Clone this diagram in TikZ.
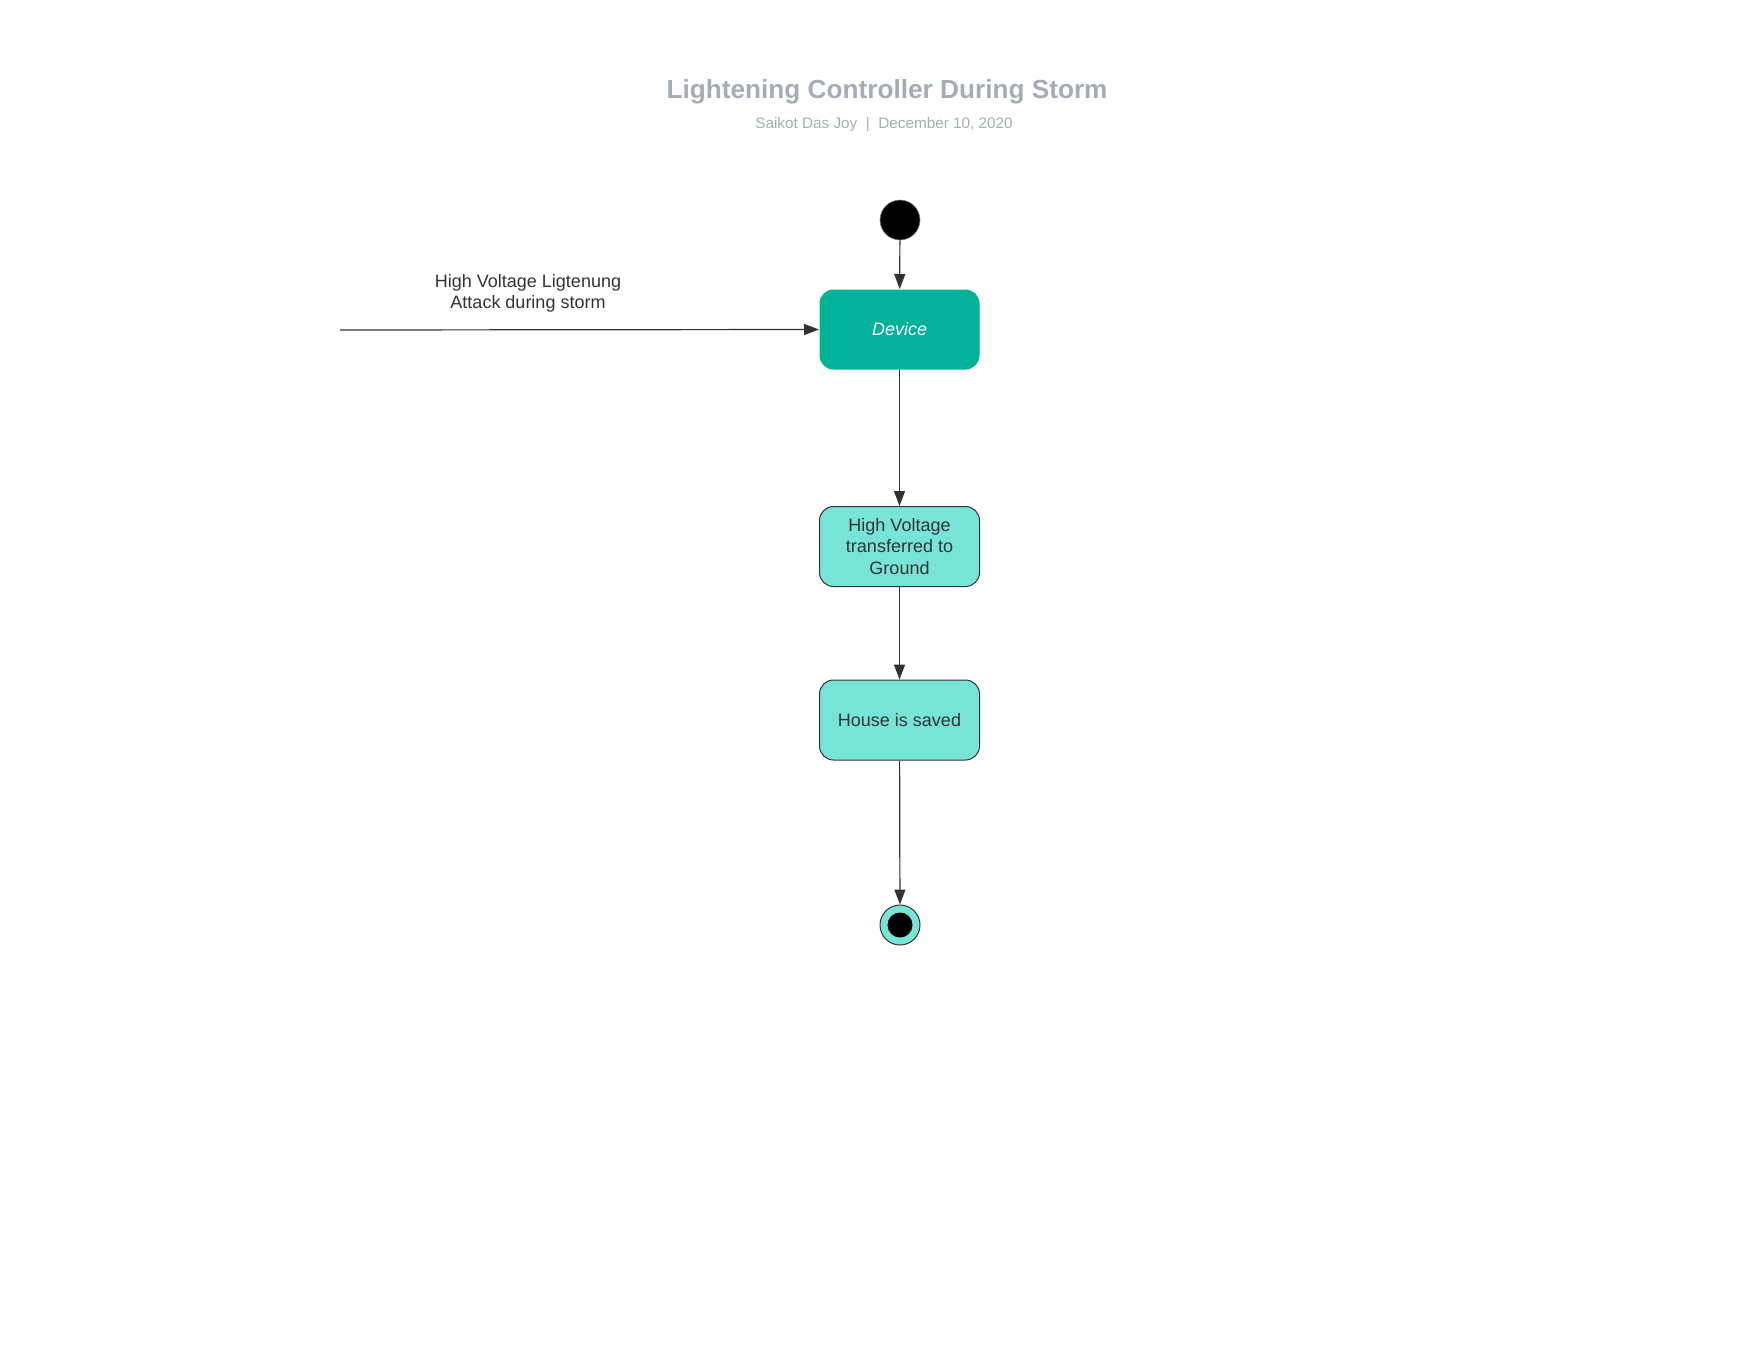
\documentclass[tikz,border=0pt]{standalone}
\usepackage{fontspec}
\setmainfont{Liberation Sans}
\usepackage{tikz}
\usetikzlibrary{arrows.meta,positioning}

\definecolor{titlegray}{HTML}{A5ACB5}
\definecolor{inkgray}{HTML}{333333}
\definecolor{devteal}{HTML}{00B29A}
\definecolor{lightteal}{HTML}{76E5D8}

\tikzset{
    state/.style={draw=inkgray, line width=1pt, fill=lightteal, rounded corners=14pt,
                  minimum width=160pt, minimum height=80pt, align=center,
                  text=inkgray, font=\fontsize{18}{21.5}\selectfont},
    flow/.style={draw=inkgray, line width=1.2pt, -{Triangle[length=15pt,width=11pt]}},
}

\begin{document}
\begin{tikzpicture}[x=1pt, y=-1pt]
                    \useasboundingbox (0,0) rectangle (1760,1360);

                    \node[anchor=base, text=titlegray, font=\fontsize{26.2}{30}\selectfont\bfseries]
                        (title) at (887,98) {Lightening Controller During Storm};
                    \node[anchor=base, text=titlegray, font=\fontsize{15.3}{18}\selectfont]
                        (sub) at (884,128) {Saikot Das Joy \ | \ December 10, 2020};

                    \node[circle, fill=black, draw=gray, line width=0.6pt, minimum size=40pt, inner sep=0pt]
                        (start) at (900,220) {};
                    \node[state, fill=devteal, draw=none, text=white, font=\fontsize{18}{21.5}\selectfont\itshape]
                        (device) at (899.5,329.5) {Device};
                    \node[state] (ground) at (899.5,546.5) {High Voltage\\transferred to\\Ground};
                    \node[state] (house) at (899.5,720) {House is saved};
                    \node[circle, fill=lightteal, draw=inkgray, line width=1pt, minimum size=40pt, inner sep=0pt]
                        (stop) at (900,925) {};
                    \node[circle, fill=black, minimum size=25pt, inner sep=0pt] (stopdot) at (stop) {};

                    \coordinate (storm) at (340,330);
                    \node[align=center, text=inkgray, font=\fontsize{18}{21}\selectfont]
                        (attack) at (528,293) {High Voltage Ligtenung\\Attack during storm};

                    \draw[flow] (start) -- (device);
                    \draw[flow] (storm) -- (device.west);
                    \draw[flow] (device) -- (ground);
                    \draw[flow] (ground) -- (house);
                    \draw[flow] (house) -- (stop);
                \end{tikzpicture}
\end{document}
